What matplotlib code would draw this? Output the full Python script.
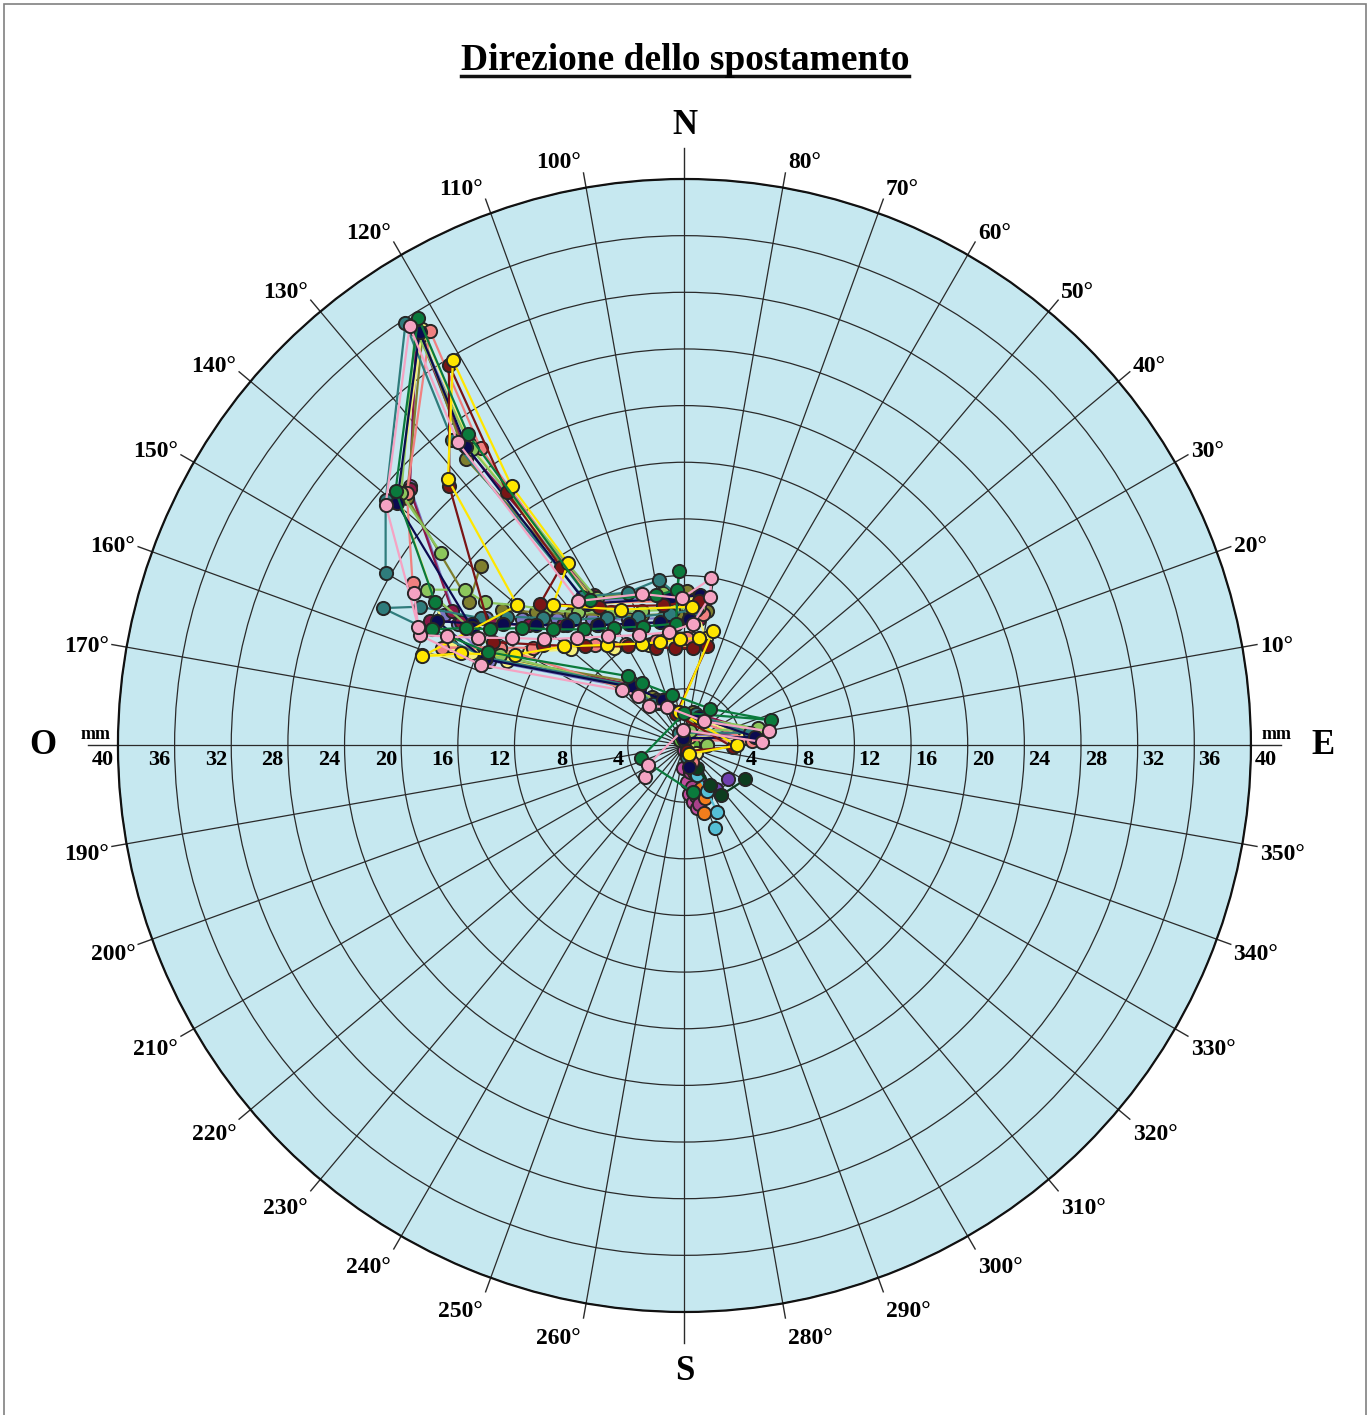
import numpy as np
import matplotlib
matplotlib.use("Agg")
import matplotlib.pyplot as plt
from matplotlib.lines import Line2D
from matplotlib.patches import Rectangle

plt.rcParams['font.family'] = ['Liberation Serif', 'DejaVu Serif']
plt.rcParams['font.weight'] = 'bold'

# displacement readings, East / North components in mm
lavender_e = [0.4, 0.2, 5.0, 0.9, -1.8, -3.5, -13.8, -17.0, -14.0, -11.5, -9.0, -6.5, -4.0, -1.5, 0.8, 0.5, -6.6, -15.2, -18.9, -19.4, -16.0]
lavender_n = [-0.6, 0.7, 0.8, 2.1, 3.0, 4.0, 6.0, 9.2, 9.0, 8.9, 8.9, 8.9, 8.9, 9.0, 9.2, 10.6, 10.2, 21.3, 29.5, 18.3, 8.6]

maroon_e = [0.3, 0.0, 5.3, 0.7, -2.1, -3.7, -14.0, -18.0, -15.8, -13.5, -11.0, -8.6, -6.2, -3.8, -1.4, 1.0, -0.3, -6.4, -15.6, -18.9, -19.4, -16.4]
maroon_n = [-1.0, 0.8, 0.9, 2.3, 3.3, 4.3, 6.3, 8.8, 8.7, 8.6, 8.5, 8.5, 8.5, 8.6, 8.7, 8.9, 10.5, 10.6, 21.2, 29.5, 18.1, 9.5]

olive_e = [0.2, 0.1, 4.8, 0.6, -2.3, -3.8, -14.2, -12.9, -10.5, -8.0, -5.5, -3.0, -0.5, 1.6, 0.2, -6.5, -15.4, -18.5, -19.6, -15.2, -14.4]
olive_n = [-0.4, 1.0, 0.4, 2.4, 3.4, 4.5, 6.3, 9.6, 9.4, 9.3, 9.2, 9.2, 9.3, 9.5, 10.9, 10.5, 20.2, 29.0, 17.5, 10.1, 12.7]

paleyellow_e = [0.8, 0.3, 4.2, 0.8, -2.0, -3.2, -12.5, -18.5, -15.0, -11.0, -8.0, -5.0, -2.5, 0.0, 1.5, 0.6, -6.3, -15.1, -18.5, -20.2, -16.5]
paleyellow_n = [-0.5, 0.6, 0.5, 2.1, 3.2, 4.0, 6.0, 6.4, 6.5, 6.6, 6.8, 6.9, 7.1, 7.3, 7.6, 10.3, 10.0, 21.2, 29.4, 17.6, 7.0]

salmon_e = [0.5, 0.0, 4.8, 0.5, -2.0, -3.4, -13.0, -17.1, -13.0, -10.7, -8.5, -6.3, -4.1, -2.0, 0.2, 1.3, -0.5, -6.5, -14.4, -17.97, -19.6, -19.2]
salmon_n = [-1.2, 0.4, 0.3, 1.9, 3.0, 3.7, 6.9, 6.9, 6.9, 6.9, 7.0, 7.1, 7.2, 7.4, 7.6, 9.3, 10.2, 10.1, 21.0, 29.3, 17.8, 11.5]

lightgreen_e = [1.6, 0.4, 5.2, 0.6, -2.0, -3.3, -13.0, -18.2, -15.5, -14.1, -11.8, -9.8, -7.5, -5.2, -3.0, -0.8, 1.0, -1.5, -6.2, -15.0, -19.0, -20.0, -17.2]
lightgreen_n = [0.0, 1.0, 1.2, 2.0, 3.1, 3.9, 6.4, 11.0, 11.0, 10.1, 9.9, 9.6, 9.4, 9.4, 9.5, 9.6, 9.8, 10.8, 10.4, 20.9, 29.4, 17.8, 13.6]

teal_e = [0.2, -0.4, 4.6, 0.8, -2.2, -3.6, -14.0, -21.3, -18.7, -14.4, -12.5, -10.0, -7.8, -5.5, -3.3, -1.0, 0.8, -1.8, -4.0, -7.2, -16.4, -19.7, -21.1, -21.1]
teal_n = [-0.8, 0.9, 0.9, 2.2, 2.9, 4.2, 6.2, 9.7, 9.8, 9.0, 9.1, 9.0, 8.9, 9.0, 9.1, 9.3, 9.6, 11.7, 10.8, 10.5, 21.6, 29.8, 17.3, 12.2]

navy_e = [0.3, -0.1, 5.0, 1.0, -1.5, -3.6, -14.1, -17.5, -15.0, -12.8, -10.5, -8.3, -6.1, -3.9, -1.7, 0.3, 1.1, -1.0, -6.9, -15.4, -18.7, -20.3, -15.0]
navy_n = [-1.5, 0.5, 0.6, 2.0, 3.2, 4.1, 6.1, 8.8, 8.6, 8.6, 8.5, 8.5, 8.5, 8.6, 8.7, 8.9, 10.6, 10.4, 10.0, 21.1, 29.2, 17.1, 8.3]

darkred_e = [0.2, 3.4, -0.6, 1.6, 0.6, -0.7, -2.0, -4.0, -7.0, -10.0, -13.5, -16.6, -16.63, -12.54, -8.72, -10.2, -6.0, -1.5, 1.0]
darkred_n = [-0.4, -0.1, 2.2, 7.0, 6.9, 6.9, 6.9, 7.0, 7.0, 7.1, 7.3, 18.3, 26.9, 17.9, 12.6, 10.0, 9.8, 9.9, 10.2]

yellow_e = [0.3, 3.7, -0.4, 2.0, 1.0, -0.3, -1.7, -3.0, -5.5, -8.5, -12.0, -15.8, -18.5, -11.8, -16.7, -16.35, -12.2, -8.2, -9.3, -4.5, 0.5]
yellow_n = [-0.6, 0.0, 2.4, 8.1, 7.6, 7.5, 7.3, 7.2, 7.1, 7.0, 6.4, 6.5, 6.3, 9.9, 18.8, 27.2, 18.3, 12.9, 9.9, 9.6, 9.8]

green_e = [0.6, -3.1, 0.0, 6.1, 1.8, -0.9, -3.0, -4.0, -13.9, -17.8, -15.4, -13.7, -11.5, -9.3, -7.1, -5.0, -2.9, -0.6, -0.4, -0.5, -2.0, -6.7, -15.3, -18.8, -20.4, -17.6]
green_n = [-3.3, -0.9, 2.3, 1.8, 2.6, 3.6, 4.4, 4.9, 6.6, 8.2, 8.3, 8.2, 8.3, 8.2, 8.2, 8.3, 8.4, 8.6, 12.3, 11.0, 10.6, 10.3, 22.0, 30.2, 18.0, 10.1]

pink_e = [-2.8, -2.6, -0.1, 5.5, 6.0, 1.4, -1.2, -2.5, -3.3, -4.4, -14.4, -18.7, -16.8, -14.6, -12.2, -9.9, -7.6, -5.4, -3.2, -1.1, 0.6, 1.8, 1.9, -0.2, -3.0, -7.5, -16.0, -19.4, -21.1, -18.8, -19.1]
pink_n = [-2.2, -1.4, 1.1, 0.25, 1.0, 1.7, 2.7, 2.8, 3.5, 3.9, 5.7, 7.8, 7.7, 7.6, 7.6, 7.5, 7.6, 7.7, 7.8, 8.0, 8.6, 10.5, 11.8, 10.4, 10.7, 10.2, 21.4, 29.6, 17.0, 8.4, 10.8]

# short recent series around the origin
purple_e = [0.1, 0.5, 1.0, 1.5, 2.2, 3.1]
purple_n = [-0.5, -1.6, -2.4, -2.9, -3.1, -2.4]
magenta_e = [0.0, -0.1, 0.2, 0.3, 0.6, 0.9]
magenta_n = [-0.3, -1.6, -2.6, -3.4, -4.0, -4.4]
plum_e = [0.2, 0.4, 0.5, 0.8, 1.0]
plum_n = [-0.8, -1.9, -2.9, -3.6, -4.1]
orange_e = [0.2, 0.7, 1.2, 1.45, 1.4]
orange_n = [-0.6, -1.9, -3.0, -3.7, -4.8]
cyan_e = [0.3, 0.9, 1.6, 2.3, 2.15]
cyan_n = [-0.7, -2.1, -3.2, -4.7, -5.8]
forest_e = [0.2, 0.9, 1.8, 2.6, 4.3]
forest_n = [-0.3, -1.6, -2.8, -3.5, -2.4]
midgreen_e = [-0.3, 0.6, 1.6]
midgreen_n = [0.4, 0.1, 0.0]

series = [
    (purple_e, purple_n, '#6f3fae'),
    (magenta_e, magenta_n, '#c24d9f'),
    (plum_e, plum_n, '#a8418a'),
    (orange_e, orange_n, '#f27d1c'),
    (cyan_e, cyan_n, '#55bfd6'),
    (forest_e, forest_n, '#0d3d1f'),
    (midgreen_e, midgreen_n, '#5ab43c'),
    (lavender_e, lavender_n, '#7b78c4'),
    (maroon_e, maroon_n, '#8c1848'),
    (olive_e, olive_n, '#7f7f2e'),
    (paleyellow_e, paleyellow_n, '#f5ef7a'),
    (salmon_e, salmon_n, '#f08080'),
    (lightgreen_e, lightgreen_n, '#8cc65c'),
    (teal_e, teal_n, '#2f7c7c'),
    (navy_e, navy_n, '#0b0b4f'),
    (darkred_e, darkred_n, '#7a1515'),
    (yellow_e, yellow_n, '#ffe600'),
    (green_e, green_n, '#0a7a3c'),
    (pink_e, pink_n, '#f5a3c3'),
]

rmax = 40
rings = np.arange(4, 41, 4)
angles = np.arange(0, 360, 10)

fig = plt.figure(figsize=(13.7, 14.15), dpi=100)
fig.patches.append(Rectangle((0.003, -0.01), 0.994, 1.007, transform=fig.transFigure,
                             fill=False, edgecolor='#808080', lw=1.2))

ax = fig.add_axes([0.0861, 0.0728, 0.8270, 0.8007], projection='polar')
ax.set_facecolor('#c6e8f0')
ax.set_ylim(0, rmax)
ax.set_rticks(rings)
ax.set_yticklabels([])
ax.set_thetagrids(angles, labels=[''] * len(angles))
ax.grid(True, color='#2a2a2a', lw=0.9)
ax.spines['polar'].set_color('#111111')
ax.spines['polar'].set_linewidth(1.6)

for e, n, c in series:
    e = np.array(e)
    n = np.array(n)
    th = np.arctan2(n, e)
    r = np.hypot(e, n)
    ax.plot(th, r, '-', color=c, lw=1.6, zorder=3)
    ax.plot(th, r, 'o', color=c, mfc=c, mec='#262626', mew=1.4, ms=9.5, zorder=3)

# tick marks outside the circle and angle labels
for a in angles:
    t = np.deg2rad(a)
    if a in (0, 180):
        ax.plot([t, t], [rmax, 42.1], color='#2a2a2a', lw=1.0, clip_on=False)
        continue
    if a in (90, 270):
        ax.plot([t, t], [rmax, 42.2], color='#2a2a2a', lw=1.0, clip_on=False)
        continue
    ax.plot([t, t], [rmax, 41.05], color='#2a2a2a', lw=1.0, clip_on=False)
    c, s = np.cos(t), np.sin(t)
    ha = 'left' if c > 0 else 'right'
    dx = 2.0 if c > 0 else -2.0
    dy = 11.5 * s - 3.6
    ax.annotate(f"{a}°", xy=(t, 41.05), xytext=(dx, dy), textcoords='offset points',
                ha=ha, va='center', fontsize=17, fontweight='bold', annotation_clip=False)

# distance labels along the E-W axis
for rv in rings:
    ax.annotate(str(rv), xy=(np.pi, rv), xytext=(-3, -3), textcoords='offset points',
                ha='right', va='top', fontsize=16, fontweight='bold', annotation_clip=False)
    ax.annotate(str(rv), xy=(0, rv), xytext=(3, -3), textcoords='offset points',
                ha='left', va='top', fontsize=16, fontweight='bold', annotation_clip=False)
ax.annotate('mm', xy=(np.pi, 41.6), xytext=(0, 2), textcoords='offset points',
            ha='center', va='bottom', fontsize=13, fontweight='bold', annotation_clip=False)
ax.annotate('mm', xy=(0, 41.8), xytext=(0, 2), textcoords='offset points',
            ha='center', va='bottom', fontsize=13, fontweight='bold', annotation_clip=False)

# cardinal points
ax.text(np.pi / 2, 43.8, 'N', ha='center', va='center', fontsize=25, fontweight='bold', clip_on=False)
ax.text(3 * np.pi / 2, 44.2, 'S', ha='center', va='center', fontsize=25, fontweight='bold', clip_on=False)
ax.text(np.pi, 45.3, 'O', ha='center', va='center', fontsize=25, fontweight='bold', clip_on=False)
ax.text(0, 45.1, 'E', ha='center', va='center', fontsize=25, fontweight='bold', clip_on=False)

# underlined title
title = fig.text(0.5, 1 - 70 / 1415, 'Direzione dello spostamento', ha='center', va='baseline',
                 fontsize=27, fontweight='bold')
fig.canvas.draw()
bb = title.get_window_extent()
W, H = fig.bbox.width, fig.bbox.height
y_ul = 1 - 75.5 / 1415
fig.lines.append(Line2D([bb.x0 / W, bb.x1 / W], [y_ul, y_ul], transform=fig.transFigure,
                        color='#111111', lw=2.5))

fig.savefig('out.png', dpi=100)
